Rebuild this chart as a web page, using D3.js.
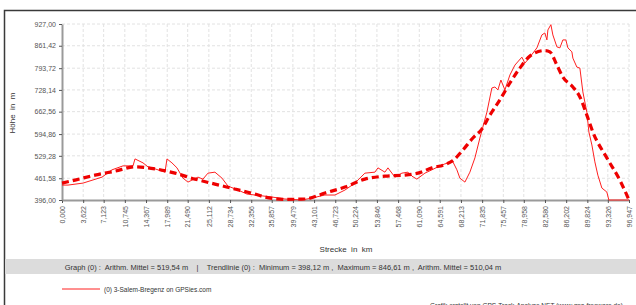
<!DOCTYPE html>
<html>
<head>
<meta charset="utf-8">
<script src="https://cdn.jsdelivr.net/npm/d3@7"></script>
<style>
  body { margin: 0; background: #fff; }
  svg { display: block; font-family: "Liberation Sans", Arial, sans-serif; }
</style>
</head>
<body>
<svg id="chart" width="636" height="305"></svg>
<script>
// Strecke (km) und Höhe (m) des Profils
const profileKm = [0.00, 1.03, 3.59, 6.84, 8.55, 10.43, 12.14, 12.48, 13.85, 14.70, 15.90, 17.61, 17.95, 18.80, 19.66, 20.68, 21.54, 23.25, 24.10, 24.96, 26.15, 27.35, 28.38, 30.09, 31.62, 32.99, 35.90, 38.12, 41.03, 42.74, 44.96, 46.67, 48.38, 50.09, 51.79, 53.50, 54.02, 55.21, 55.73, 56.92, 58.12, 59.15, 59.83, 60.68, 62.05, 63.25, 64.27, 65.47, 66.84, 67.52, 68.03, 68.89, 69.74, 70.60, 71.45, 72.65, 73.50, 74.02, 74.53, 75.04, 75.73, 76.58, 77.44, 78.63, 79.15, 80.00, 81.20, 82.05, 82.56, 82.91, 83.08, 83.59, 83.93, 84.62, 85.13, 85.64, 86.15, 86.50, 87.18, 87.35, 88.03, 88.55, 89.06, 89.74, 90.09, 90.60, 91.11, 91.62, 92.31, 93.16, 93.50, 96.947];
const profileM = [441, 441, 447, 465, 487, 499, 499, 520, 508, 496, 490, 480, 520, 508, 493, 462, 450, 465, 459, 477, 480, 462, 438, 426, 414, 411, 405, 399, 396, 402, 411, 411, 426, 447, 477, 480, 493, 480, 493, 465, 477, 480, 468, 459, 477, 487, 496, 505, 511, 487, 462, 450, 480, 523, 583, 661, 734, 737, 728, 758, 728, 773, 803, 827, 809, 827, 855, 894, 900, 879, 909, 925, 894, 858, 855, 879, 879, 855, 843, 824, 797, 794, 722, 661, 601, 562, 511, 471, 432, 420, 396, 396];

// Trendlinie
const trendKm = [0.00, 2.22, 5.64, 9.06, 12.48, 15.90, 19.32, 22.74, 26.15, 29.57, 32.99, 34.70, 38.12, 41.54, 44.96, 48.38, 51.79, 55.21, 58.63, 60.85, 63.25, 65.47, 66.84, 68.55, 70.26, 71.79, 73.16, 74.87, 76.58, 78.29, 80.00, 82.56, 83.42, 84.62, 85.64, 87.35, 88.55, 89.74, 90.77, 93.16, 95.38, 96.947];
const trendM = [447, 456, 471, 483, 496, 490, 477, 459, 444, 429, 414, 405, 398, 399, 417, 435, 459, 468, 471, 477, 493, 503, 515, 547, 583, 610, 652, 698, 749, 794, 830, 847, 843, 803, 767, 737, 707, 652, 601, 523, 456, 396];

const xTicks = [0.000, 3.622, 7.123, 10.745, 14.367, 17.989, 21.490, 25.112, 28.734, 32.356, 35.857, 39.479, 43.101, 46.723, 50.224, 53.846, 57.468, 61.090, 64.591, 68.213, 71.835, 75.457, 78.958, 82.580, 86.202, 89.824, 93.326, 96.947];
const yTicks = [396.00, 461.58, 529.28, 594.86, 662.56, 728.14, 793.72, 861.42, 927.00];

const statsText = "Graph (0) :  Arithm. Mittel = 519,54 m    |    Trendlinie (0) :  Minimum = 398,12 m ,  Maximum = 846,61 m ,  Arithm. Mittel = 510,04 m";
const legendText = "(0) 3-Salem-Bregenz on GPSies.com";
const creditText = "Grafik erstellt von GPS-Track-Analyse.NET (www.gps-freeware.de)";

const svg = d3.select("#chart");
const plot = { left: 62, right: 629, top: 24, bottom: 200 };

const x = d3.scaleLinear().domain([0, 96.947]).range([plot.left, plot.right]);
const y = d3.scaleLinear().domain([396, 927]).range([plot.bottom, plot.top]);
const fmt = (v, d) => v.toFixed(d).replace(".", ",");

// Rahmen
svg.append("path")
  .attr("d", "M4.5,305 V10.5 H636")
  .attr("fill", "none").attr("stroke", "#3a3a3a").attr("stroke-width", 1.5);

// Gitter
const grid = svg.append("g").attr("stroke", "#e2e2e2").attr("stroke-dasharray", "3,2");
grid.selectAll("line.v").data(xTicks.slice(1)).join("line")
  .attr("x1", d => x(d)).attr("x2", d => x(d))
  .attr("y1", plot.top).attr("y2", plot.bottom);
grid.selectAll("line.h").data(yTicks.slice(1)).join("line")
  .attr("x1", plot.left).attr("x2", plot.right)
  .attr("y1", d => y(d)).attr("y2", d => y(d));

// Achsen
const xAxis = svg.append("g").attr("transform", `translate(0,${plot.bottom})`)
  .call(d3.axisBottom(x).tickValues(xTicks).tickSize(3).tickSizeOuter(0).tickFormat(d => fmt(d, 3)));
xAxis.select(".domain").attr("stroke", "#9a9a9a").attr("stroke-width", 2);
xAxis.selectAll(".tick line").attr("stroke", "#555");
xAxis.selectAll(".tick text")
  .attr("fill", "#555").attr("font-size", 7)
  .attr("transform", "rotate(-90)")
  .attr("text-anchor", "end").attr("x", -6).attr("y", 0).attr("dy", "0.32em");

const yAxis = svg.append("g").attr("transform", `translate(${plot.left},0)`)
  .call(d3.axisLeft(y).tickValues(yTicks).tickSize(3).tickSizeOuter(0).tickFormat(d => fmt(d, 2)));
yAxis.select(".domain").attr("stroke", "#9a9a9a").attr("stroke-width", 2);
yAxis.selectAll(".tick line").attr("stroke", "#555");
yAxis.selectAll(".tick text").attr("fill", "#555").attr("font-size", 7).attr("x", -6);

// Profil
const profile = profileKm.map((k, i) => [k, profileM[i]]);
const trend = trendKm.map((k, i) => [k, trendM[i]]);
const line = d3.line().x(d => x(d[0])).y(d => y(d[1]));

svg.append("path").datum(profile)
  .attr("d", line).attr("fill", "none")
  .attr("stroke", "#ff2020").attr("stroke-width", 1).attr("stroke-linejoin", "round");

svg.append("path").datum(trend)
  .attr("d", line.curve(d3.curveMonotoneX)).attr("fill", "none")
  .attr("stroke", "#ee0000").attr("stroke-width", 3.2).attr("stroke-dasharray", "7,4");

// Achsentitel
svg.append("text").attr("transform", "translate(15,113) rotate(-90)")
  .attr("text-anchor", "middle").attr("font-size", 8).attr("fill", "#333")
  .attr("xml:space", "preserve").text("Höhe  in  m");
svg.append("text").attr("x", 346).attr("y", 252)
  .attr("text-anchor", "middle").attr("font-size", 8).attr("fill", "#333")
  .attr("xml:space", "preserve").text("Strecke  in  km");

// Statistik-Band
svg.append("rect").attr("x", 5).attr("y", 259).attr("width", 631).attr("height", 15).attr("fill", "#dcdcdc");
svg.append("text").attr("x", 283).attr("y", 269.5)
  .attr("text-anchor", "middle").attr("font-size", 7.5).attr("fill", "#333")
  .attr("xml:space", "preserve").text(statsText);

// Legende
svg.append("line").attr("x1", 62).attr("x2", 100).attr("y1", 289).attr("y2", 289)
  .attr("stroke", "#ff2020").attr("stroke-width", 1);
svg.append("text").attr("x", 104).attr("y", 291.5)
  .attr("font-size", 6.5).attr("fill", "#333").text(legendText);

svg.append("text").attr("x", 430).attr("y", 307.5)
  .attr("font-size", 6.5).attr("fill", "#333").text(creditText);
</script>
</body>
</html>
